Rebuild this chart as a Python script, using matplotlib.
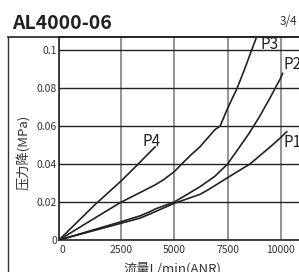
import numpy as np
import matplotlib
matplotlib.use('Agg')
import matplotlib.pyplot as plt
from matplotlib.lines import Line2D

plt.rcParams['font.family'] = ['Noto Sans CJK SC', 'DejaVu Sans']

# Data (flow L/min(ANR), pressure drop MPa)
flow_p1 = [0, 2500, 3390, 3860, 4100, 5000, 6200, 6600, 7500, 8080, 8550, 9000, 9500, 10000, 10270]
dp_p1 = [0, 0.0088, 0.0115, 0.0137, 0.0149, 0.0193, 0.0240, 0.0265, 0.0328, 0.0368, 0.0400, 0.0443, 0.0490, 0.0540, 0.0570]

flow_p2 = [0, 2500, 3390, 3860, 4100, 5000, 5600, 6200, 6900, 7500, 8000, 8500, 9000, 9500, 10000, 10080]
dp_p2 = [0, 0.0096, 0.0127, 0.0149, 0.0163, 0.0200, 0.0240, 0.0280, 0.0335, 0.0400, 0.0480, 0.0560, 0.0650, 0.0750, 0.0855, 0.0877]

flow_p3 = [0, 1450, 2460, 3400, 4100, 4480, 5000, 5350, 5800, 6200, 6900, 7150, 7500, 7950, 8300, 8630, 8830]
dp_p3 = [0, 0.0116, 0.0196, 0.0250, 0.0290, 0.0316, 0.0360, 0.0400, 0.0450, 0.0490, 0.0580, 0.0600, 0.0693, 0.0800, 0.0900, 0.1000, 0.1060]

flow_p4 = [0, 1450, 2500, 3310, 3700, 4100]
dp_p4 = [0, 0.0186, 0.0310, 0.0400, 0.0445, 0.0490]

curve_names = ['P1', 'P2', 'P3', 'P4']
label_pos = {'P1': (10100, 0.0513), 'P2': (10100, 0.0924), 'P3': (9020, 0.1029), 'P4': (3530, 0.0521)}

x_ticks = [0, 2500, 5000, 7500, 10000]
x_ticklabels = ['0', '2500', '5000', '7500', '10000']
y_ticks = [0, 0.02, 0.04, 0.06, 0.08, 0.1]
y_ticklabels = ['0', '0.02', '0.04', '0.06', '0.08', '0.1']

# first interval (0-2500) is drawn wider than the others in the original
K = 62 / 53.3


def fwd(x):
    x = np.asarray(x, dtype=float)
    return np.where(x < 2500, x * K, x + 2500 * (K - 1))


def inv(u):
    u = np.asarray(u, dtype=float)
    return np.where(u < 2500 * K, u / K, u - 2500 * (K - 1))


W, H = 299, 272
fig = plt.figure(figsize=(W / 100, H / 100), dpi=100)
ax = fig.add_axes([59 / W, 32 / H, 240 / W, (240 - 36.7) / H])
ax.set_xscale('function', functions=(fwd, inv))

line_kw = dict(color='#222222', linewidth=1.2)
ax.plot(flow_p1, dp_p1, **line_kw)
ax.plot(flow_p2, dp_p2, **line_kw)
ax.plot(flow_p3, dp_p3, **line_kw)
ax.plot(flow_p4, dp_p4, **line_kw)

for name in curve_names:
    lx, ly = label_pos[name]
    ax.text(lx, ly, name, fontsize=11, color='#222222', ha='left', va='center')

ax.set_xlim(0, 10849)
ax.set_ylim(0, 0.107)
ax.set_xticks(x_ticks)
ax.set_xticklabels(x_ticklabels)
ax.set_yticks(y_ticks)
ax.set_yticklabels(y_ticklabels)
ax.get_xticklabels()[0].set_ha('left')
ax.tick_params(length=0, labelsize=7.5, colors='#333333')
ax.tick_params(axis='x', pad=3.5)
ax.tick_params(axis='y', pad=1.5)

ax.xaxis.grid(True, color='#777777', linewidth=1.1)
ax.yaxis.grid(True, color='#222222', linewidth=1.0)
ax.set_axisbelow(True)

for side in ['left', 'bottom', 'top']:
    ax.spines[side].set_color('#222222')
    ax.spines[side].set_linewidth(1.2)
ax.spines['right'].set_visible(False)

# outer frame of the datasheet table
top = 1 - 36.7 / H
fig.add_artist(Line2D([8 / W, 8 / W], [0, top], transform=fig.transFigure, color='#333333', linewidth=1.0))
fig.add_artist(Line2D([8 / W, 1], [top, top], transform=fig.transFigure, color='#222222', linewidth=1.2))

fig.text(12 / W, 1 - 29 / H, 'AL4000-06', fontsize=14, fontweight='bold', color='#222222', va='baseline')
fig.text(297 / W, 1 - 25 / H, '3/4', fontsize=8.5, color='#333333', ha='right', va='baseline')
fig.text(24 / W, 1 - 152 / H, '压力降(MPa)', fontsize=9.5, color='#333333', rotation=90, ha='center', va='center')
fig.text(172 / W, 1 - 262 / H, '流量L/min(ANR)', fontsize=9.5, color='#333333', ha='center', va='top')

fig.savefig('out.png', dpi=100)
